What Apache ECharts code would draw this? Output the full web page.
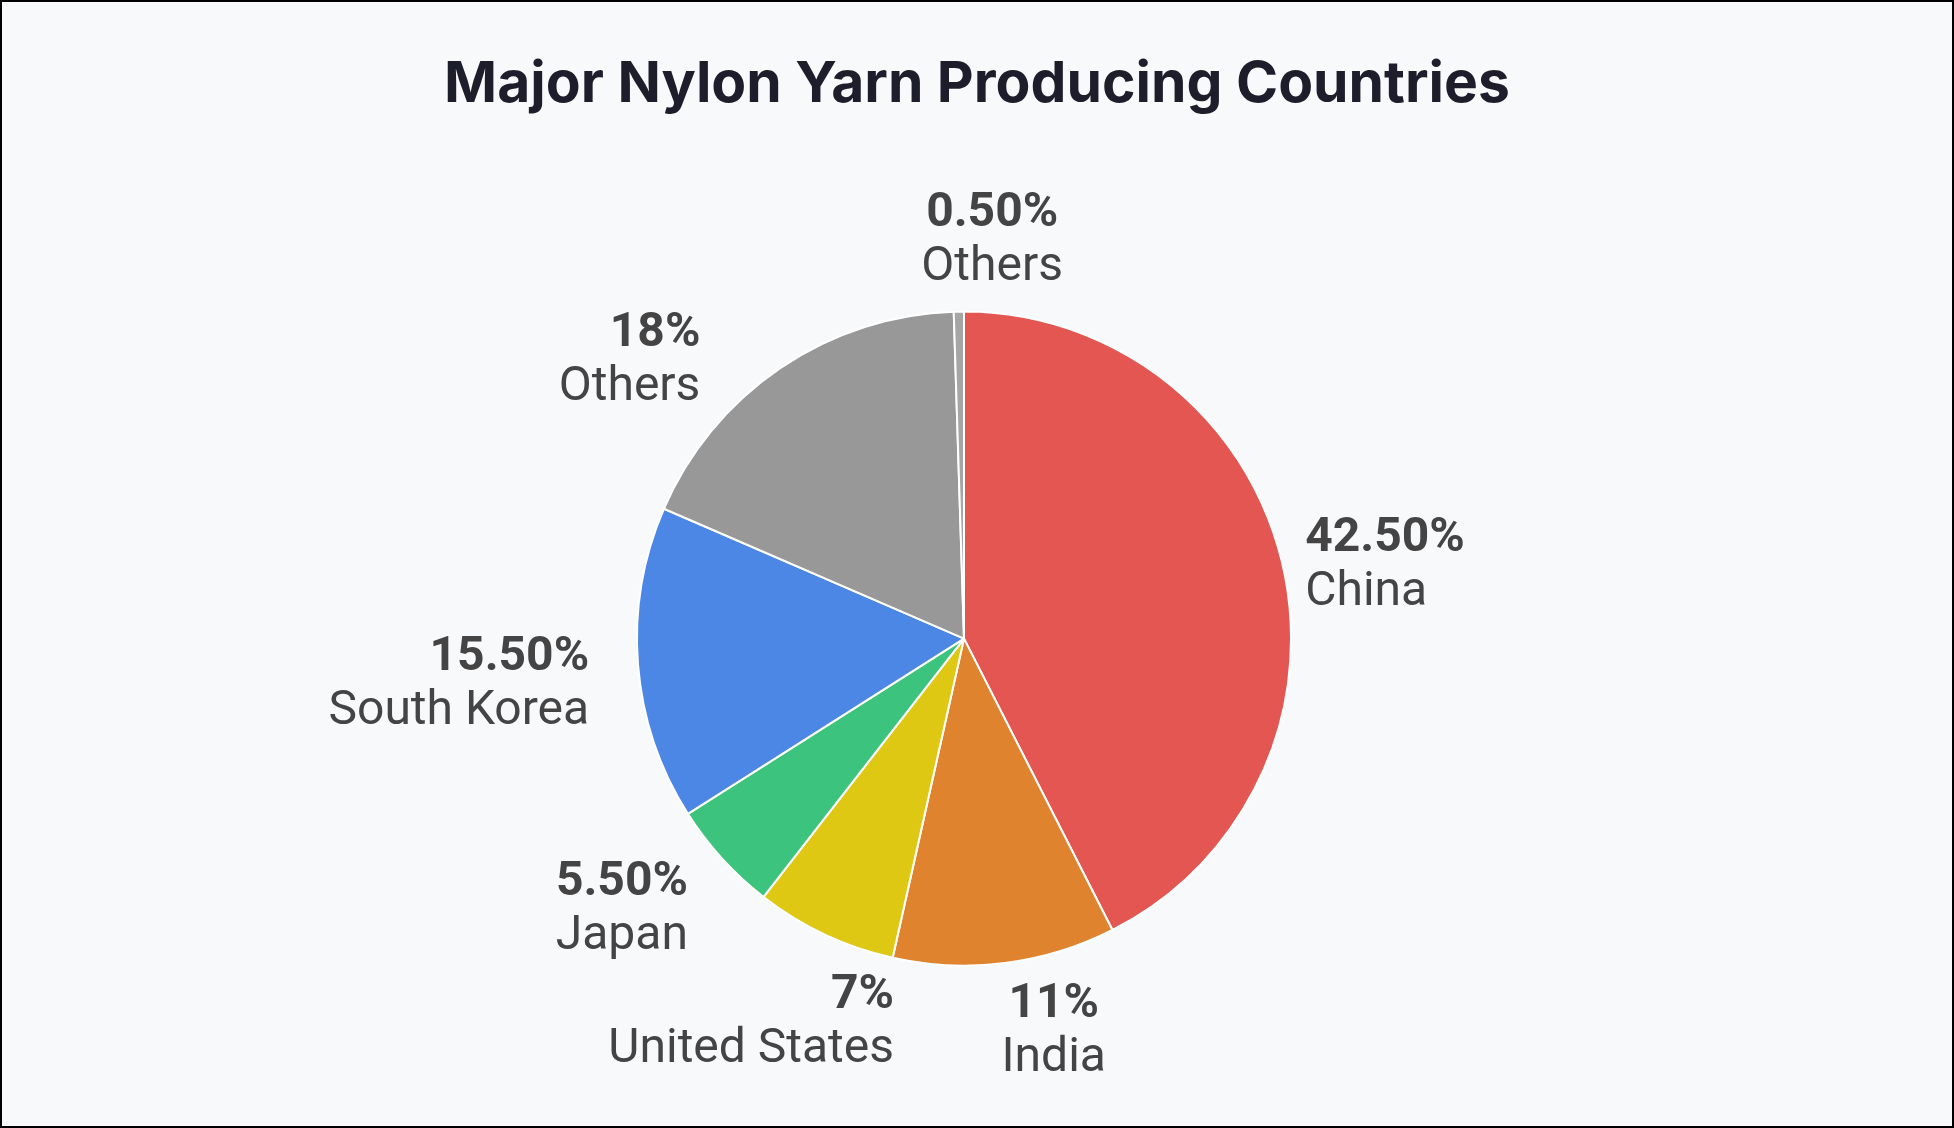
<!DOCTYPE html>
<html>
<head>
<meta charset="utf-8">
<script src="https://cdn.jsdelivr.net/npm/echarts@6/dist/echarts.min.js"></script>
<style>
  html, body { margin: 0; padding: 0; background: #f8f9fb; }
  #chart { width: 1954px; height: 1128px; }
  #frame { position: absolute; left: 0; top: 0; width: 1954px; height: 1128px; box-sizing: border-box; border: 2px solid #000; pointer-events: none; }
</style>
</head>
<body>
<div id="chart"></div>
<div id="frame"></div>
<script>
// ---- data ----
const titleText = 'Major Nylon Yarn Producing Countries';
const categories = ['China', 'India', 'United States', 'Japan', 'South Korea', 'Others', 'Others'];
const shares = [42.5, 11, 7, 5.5, 15.5, 18, 0.5];
const sliceColors = ['#e45652', '#df832f', '#dfc814', '#3cc47e', '#4c87e6', '#989898', '#a6a6a6'];

// ---- layout constants (pie geometry and label placement, polar around the pie) ----
const CENTER = [964, 638.6];
const RADIUS = 327;
// per label: angle nudge from the slice mid-angle (deg), distance of label centre in radii, text align
const LABEL_ANGLE_NUDGE = [3.1, -5.8, 4.1, 4.4, -0.15, -15.6, 4.9];
const LABEL_DIST = [1.309, 1.220, 1.330, 1.326, 1.550, 1.339, 1.235];
const LABEL_ALIGN = ['left', 'center', 'right', 'right', 'right', 'right', 'center'];
const LABEL_Y_SHIFT = 5;

const total = shares.reduce((a, b) => a + b, 0);
const midAngles = [];
{
  let acc = 0;
  shares.forEach(v => { midAngles.push((acc + v / 2) / total * Math.PI * 2); acc += v; });
}
function fmtPct(v) {
  return (Number.isInteger(v) ? String(v) : v.toFixed(2)) + '%';
}

const chart = echarts.init(document.getElementById('chart'), null, { renderer: 'canvas' });
chart.setOption({
  backgroundColor: '#f8f9fb',
  animation: false,
  title: {
    text: titleText,
    left: 'center',
    top: 51,
    textStyle: { fontFamily: 'Inter', fontWeight: 700, fontSize: 57, color: '#1d1e2b' }
  },
  series: [{
    type: 'pie',
    center: CENTER,
    radius: RADIUS,
    startAngle: 90,
    clockwise: true,
    avoidLabelOverlap: false,
    itemStyle: { borderColor: '#ffffff', borderWidth: 2 },
    labelLine: { show: false },
    label: {
      show: true,
      position: 'outside',
      formatter: p => '{p|' + fmtPct(p.value) + '}\n{n|' + p.name + '}',
      rich: {
        p: { fontFamily: 'Roboto', fontWeight: 'bold', fontSize: 48, lineHeight: 54, color: '#444444' },
        n: { fontFamily: 'Roboto', fontWeight: 'normal', fontSize: 48, lineHeight: 54, color: '#444444' }
      }
    },
    labelLayout: function (params) {
      const i = params.dataIndex;
      const a = midAngles[i] + LABEL_ANGLE_NUDGE[i] * Math.PI / 180;
      const dx = Math.sin(a), dy = -Math.cos(a);
      const R = RADIUS * LABEL_DIST[i];
      const w = params.labelRect.width;
      const cx = CENTER[0] + dx * R, cy = CENTER[1] + dy * R + LABEL_Y_SHIFT;
      const align = LABEL_ALIGN[i];
      let x = cx;
      if (align === 'left') x = cx - w / 2;
      else if (align === 'right') x = cx + w / 2;
      return { x: x, y: cy, align: align, verticalAlign: 'middle' };
    },
    data: categories.map((c, i) => ({ name: c, value: shares[i], itemStyle: { color: sliceColors[i] } }))
  }]
});
</script>
</body>
</html>
